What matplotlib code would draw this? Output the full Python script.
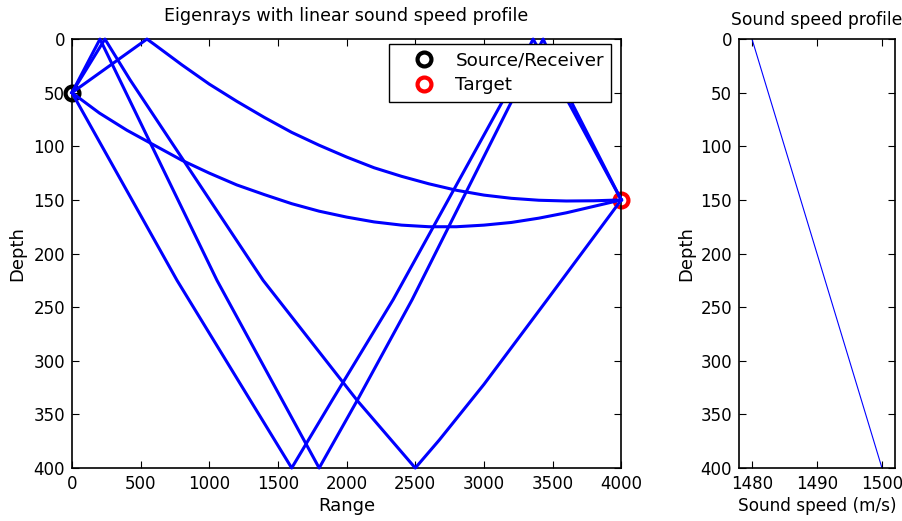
import matplotlib
matplotlib.use("Agg")
from matplotlib import pyplot as plt

plt.rcParams['font.family'] = ['DejaVu Sans']
plt.rcParams['font.size'] = 12

# source / target positions
source = (0, 50)
target = (4000, 150)

# eigenrays (range, depth)
ray1_range = [0, 765, 1600, 1894, 2339, 3140, 3358, 3607, 4000]
ray1_depth = [50, 225, 400, 337, 243, 57, 0, 57, 150]

ray2_range = [0, 204, 1056, 1800, 2077, 2477, 3206, 3431, 3650, 4000]
ray2_depth = [50, 0, 225, 400, 337, 243, 57, 0, 62, 150]

ray3_range = [0, 240, 423, 1392, 2077, 2500, 2674, 3000, 3461, 4000]
ray3_depth = [50, 0, 38, 225, 337, 400, 374, 322, 243, 150]

# surface-reflected arc
ray4_range = [0, 546, 600, 800, 1000, 1200, 1400, 1600, 1800, 2000, 2200,
              2400, 2600, 2800, 3000, 3200, 3400, 3600, 3800, 4000]
ray4_depth = [50, 0, 5, 24, 42, 58, 73, 87, 99, 110, 120,
              128, 135, 141, 145.5, 148.5, 150.3, 151, 150.8, 150]

# direct refracted arc
ray5_range = [0, 200, 400, 600, 800, 1000, 1200, 1400, 1600, 1800, 2000,
              2200, 2400, 2600, 2800, 3000, 3200, 3400, 3600, 3800, 4000]
ray5_depth = [50, 69, 85, 99, 113, 125, 136, 145, 153.5, 160.5, 166,
              170.5, 173.5, 175, 175, 173.5, 171, 167, 162, 156, 150]

rays = [(ray1_range, ray1_depth), (ray2_range, ray2_depth), (ray3_range, ray3_depth),
        (ray4_range, ray4_depth), (ray5_range, ray5_depth)]

# sound speed profile
ssp_depth = [0, 400]
ssp_speed = [1480, 1500]

fig = plt.figure(figsize=(9.03, 5.21), dpi=100)
ax = fig.add_axes([0.0797, 0.1017, 0.6083, 0.8233])
ax2 = fig.add_axes([0.8184, 0.1017, 0.1727, 0.8233])

ax.plot(*source, 'o', color='k', mfc='none', ms=10, mew=3, clip_on=False,
        zorder=2, label='Source/Receiver')
ax.plot(*target, 'o', color='r', mfc='none', ms=10, mew=3, clip_on=False,
        zorder=2, label='Target')
for r, d in rays:
    ax.plot(r, d, color='b', lw=2.2, zorder=3, clip_on=False,
            solid_joinstyle='round')

ax.set_xlim(0, 4000)
ax.set_ylim(400, 0)
ax.set_xticks(range(0, 4001, 500))
ax.set_yticks(range(0, 401, 50))
ax.set_xlabel('Range', fontsize=13, labelpad=3)
ax.set_ylabel('Depth', fontsize=13, labelpad=5)
ax.set_title('Eigenrays with linear sound speed profile', fontsize=12.6, pad=13)
ax.tick_params(direction='in', top=True, right=True, length=5, labelsize=12, pad=5)
leg = ax.legend(loc='upper right', bbox_to_anchor=(0.982, 0.989), borderaxespad=0,
                fancybox=False, edgecolor='k', framealpha=1, fontsize=13.2,
                handletextpad=0.2, borderpad=0.4, labelspacing=0.4, handlelength=3.0)
leg.get_frame().set_linewidth(1)

ax2.plot(ssp_speed, ssp_depth, color='b', lw=0.8)
ax2.set_xlim(1478, 1502)
ax2.set_ylim(400, 0)
ax2.set_xticks([1480, 1490, 1500])
ax2.set_yticks(range(0, 401, 50))
ax2.set_xlabel('Sound speed (m/s)', fontsize=12.2, labelpad=3)
ax2.set_ylabel('Depth', fontsize=13, labelpad=4)
ax2.set_title('Sound speed profile', fontsize=12.3, pad=10)
ax2.tick_params(direction='in', top=True, right=True, length=5, labelsize=12, pad=5)

for a in (ax, ax2):
    for s in a.spines.values():
        s.set_linewidth(1.2)

fig.savefig('out.png', dpi=100)
